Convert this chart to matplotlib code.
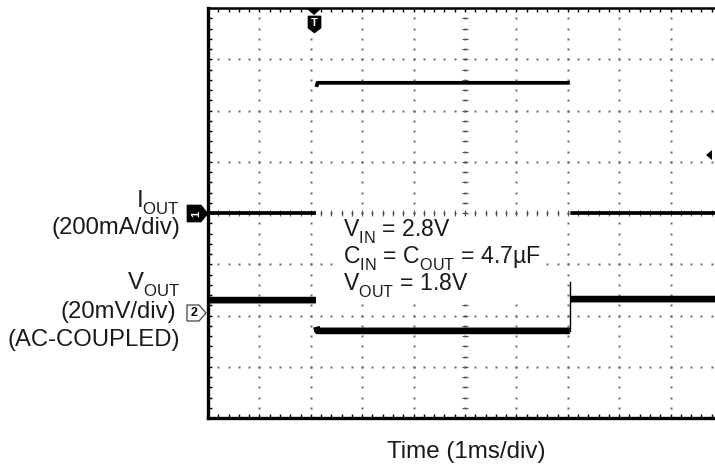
import numpy as np
import matplotlib
matplotlib.use("Agg")
import matplotlib.pyplot as plt
from matplotlib.patches import Polygon, Rectangle

plt.rcParams['font.family'] = ['Liberation Sans', 'DejaVu Sans']
plt.rcParams['mathtext.fontset'] = 'custom'
plt.rcParams['mathtext.rm'] = 'Liberation Sans'
plt.rcParams['mathtext.it'] = 'Liberation Sans'
try:
    import matplotlib._mathtext as _mt
    _mt.FontConstantsBase.sub1 = 0.55
    _mt.FontConstantsBase.sub2 = 0.6
except Exception:
    pass

nan = float('nan')

# Time axis in divisions (1 ms/div), vertical in divisions (center = 0)
iout_time = [0.0, 2.10, nan, 2.11, 2.13, 7.04, nan, 7.05, 10.2]
iout_level = [0.0, 0.0, nan, 2.46, 2.54, 2.54, nan, 0.0, 0.0]

vout_time = [0.0, 2.10, nan, 2.11, 2.13, 7.04, nan, 7.06, 10.2]
vout_level = [-1.70, -1.70, nan, -2.22, -2.30, -2.30, nan, -1.68, -1.68]

spike_time = [7.05, 7.05]
spike_level = [-2.30, -1.35]

x_divs = 10
y_divs = 8

W, H = 715, 468
fig = plt.figure(figsize=(W / 100, H / 100), dpi=100)
left_px, right_px, top_px, bot_px = 208, 722, 8, 418
ax = fig.add_axes([left_px / W, 1 - bot_px / H, (right_px - left_px) / W, (bot_px - top_px) / H])
ax.set_xlim(0, x_divs)
ax.set_ylim(-y_divs / 2, y_divs / 2)

# grid dots
dot_c = '#6a6a6a'
minor_y = np.arange(-4, 4.001, 0.2)
minor_x = np.arange(0, 10.001, 0.2)
for gx in range(1, x_divs):
    ax.plot(np.full_like(minor_y, gx), minor_y, ls='none', marker='s', ms=1.5,
            mfc=dot_c, mec='none', zorder=1)
for gy in range(-3, 4):
    ax.plot(minor_x, np.full_like(minor_x, gy), ls='none', marker='s', ms=1.5,
            mfc=dot_c, mec='none', zorder=1)
# center cross ticks
ax.plot(np.full_like(minor_y, 5), minor_y, ls='none', marker='_', ms=4.5, mew=0.8,
        color='#555555', zorder=1)
ax.plot(minor_x, np.zeros_like(minor_x), ls='none', marker='|', ms=4.5, mew=0.8,
        color='#555555', zorder=1)


def fx(px):
    return px / W


def fy(py):
    return 1 - py / H


# white label area covering graticule behind the annotation
fig.patches.append(Rectangle((fx(337), fy(298)), (546 - 337) / W, (298 - 220) / H,
                             transform=fig.transFigure, fc='white', ec='none', zorder=1.5))

# traces
ax.plot(iout_time, iout_level, color='black', lw=2.7, solid_capstyle='butt', zorder=3)
ax.plot(vout_time, vout_level, color='black', lw=4.8, solid_capstyle='butt', zorder=3)
ax.plot(spike_time, spike_level, color='black', lw=1.0, zorder=3)

# frame
for s in ['top', 'right']:
    ax.spines[s].set_linewidth(1.8)
for s in ['left', 'bottom']:
    ax.spines[s].set_linewidth(2.4)
ax.set_xticks(range(0, 11))
ax.set_yticks(range(-4, 5))
ax.set_xticks(minor_x, minor=True)
ax.set_yticks(minor_y, minor=True)
ax.tick_params(which='both', direction='in', length=3, width=1.0,
               top=True, right=False, labelbottom=False, labelleft=False)


def poly(pts, **kw):
    p = Polygon([(fx(a), fy(b)) for a, b in pts], closed=True,
                transform=fig.transFigure, **kw)
    fig.patches.append(p)


# trigger position marker (top)
poly([(307, 9), (321, 9), (314, 15)], fc='black', ec='none')
poly([(308, 16), (321, 16), (321, 28), (314.5, 33), (308, 28)], fc='black', ec='black', lw=0.5)
fig.text(fx(314.5), fy(23), 'T', ha='center', va='center', color='white',
         fontsize=8, fontweight='bold')
# channel 1 marker
poly([(187, 205), (201, 205), (208, 213.5), (201, 222), (187, 222)], fc='black', ec='black', lw=0.5)
fig.text(fx(196), fy(213.5), '1', ha='center', va='center', color='white',
         fontsize=8, fontweight='bold', rotation=90)
# channel 2 marker
poly([(187, 305), (199, 305), (206, 313), (199, 321), (187, 321)], fc='white', ec='#444444', lw=0.9)
fig.text(fx(194.5), fy(313), '2', ha='center', va='center', color='black',
         fontsize=9, fontweight='bold')
# trigger level marker (right)
poly([(706, 155), (712, 150), (712, 160)], fc='black', ec='none')

txt_c = '#1a1a1a'
lab_fs = 17.2
fig.text(fx(180), fy(208), r'I$_{\mathregular{OUT}}$', ha='right', va='baseline', fontsize=lab_fs, color=txt_c)
fig.text(fx(180), fy(234), '(200mA/div)', ha='right', va='baseline', fontsize=lab_fs, color=txt_c)
fig.text(fx(180), fy(290), r'V$_{\mathregular{OUT}}$', ha='right', va='baseline', fontsize=lab_fs, color=txt_c)
fig.text(fx(176), fy(318), '(20mV/div)', ha='right', va='baseline', fontsize=lab_fs, color=txt_c)
fig.text(fx(180), fy(346), '(AC-COUPLED)', ha='right', va='baseline', fontsize=lab_fs, color=txt_c)

ann_fs = 16.6
fig.text(fx(343), fy(237), r'V$_{\mathregular{IN}}$ = 2.8V', ha='left', va='baseline', fontsize=ann_fs, color=txt_c)
fig.text(fx(343), fy(264), r'C$_{\mathregular{IN}}$ = C$_{\mathregular{OUT}}$ = 4.7µF', ha='left', va='baseline', fontsize=ann_fs, color=txt_c)
fig.text(fx(343), fy(291), r'V$_{\mathregular{OUT}}$ = 1.8V', ha='left', va='baseline', fontsize=ann_fs, color=txt_c)

fig.text(fx(466), fy(458), 'Time (1ms/div)', ha='center', va='baseline', fontsize=17.4, color=txt_c)

fig.savefig('out.png', dpi=100)
